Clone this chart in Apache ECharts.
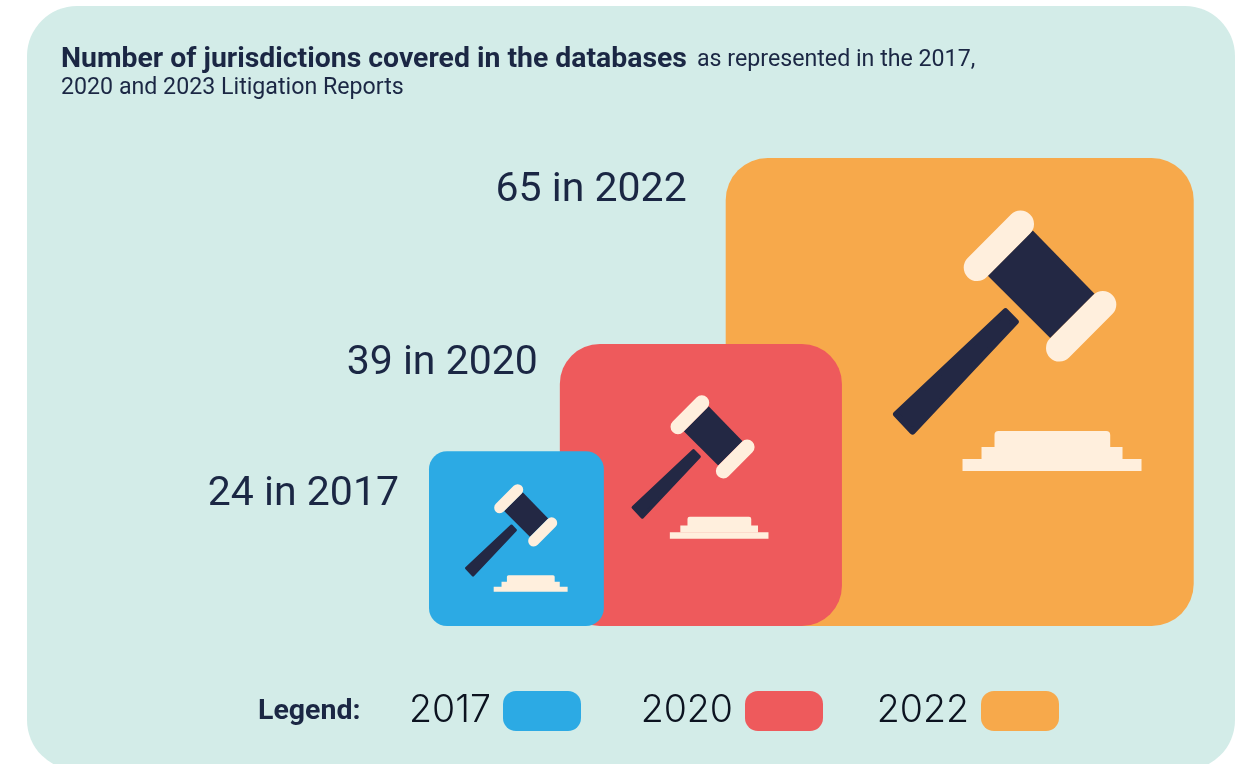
<!DOCTYPE html>
<html>
<head>
<meta charset="utf-8">
<title>Number of jurisdictions</title>
<script src="https://cdn.jsdelivr.net/npm/echarts@6/dist/echarts.min.js"></script>
<style>
  html, body { margin: 0; padding: 0; background: #fff; }
  #chart { width: 1250px; height: 764px; }
</style>
</head>
<body>
<div id="chart"></div>
<script>
  var years = ['2017', '2020', '2022'];
  var jurisdictions = [24, 39, 65];

  var colors = ['#2caae4', '#ee5a5c', '#f7a94b'];
  var navy = '#232844';
  var cream = '#ffefdd';
  var textColor = '#1b2744';

  // where each square starts on the hidden x axis (same units as the values)
  var squareStart = [0, 18.3, 41.5];
  var cornerRadius = [18, 40, 42];
  // label position against the square's top left corner
  var labelOffset = [[-30, 44], [-22, 20], [-39, 33]];
  // gavel: anchor as a fraction of the square side, and its scale
  var gavelAnchor = [[0.37, 0.804], [0.39, 0.691], [0.506, 0.669]];
  var gavelScale = [0.413, 0.551, 1];
  var legendRight = [669, 427, 191];

  var swatch = 'path://M13 0H65A13 13 0 0 1 78 13V27A13 13 0 0 1 65 40H13A13 13 0 0 1 0 27V13A13 13 0 0 1 13 0Z';
  var yMin = -0.45;

  // gavel drawn at full size, origin at the left bottom corner of its base
  function gavelShapes() {
    return [
      { type: 'polygon', shape: { points: [[43, -159.8], [53.3, -149.3], [-50, -39.5], [-66.5, -57]] },
        style: { fill: navy, stroke: navy, lineWidth: 6, lineJoin: 'round' } },
      { type: 'polygon', shape: { points: [[70.3, -240.6], [132, -177.3], [87.7, -133], [25.3, -195.3]] },
        style: { fill: navy } },
      { type: 'line', shape: { x1: 14.7, y1: -203.5, x2: 58, y2: -247 },
        style: { stroke: cream, lineWidth: 27, lineCap: 'round' } },
      { type: 'line', shape: { x1: 97, y1: -123, x2: 140.3, y2: -166.6 },
        style: { stroke: cream, lineWidth: 27, lineCap: 'round' } },
      { type: 'rect', shape: { x: 32, y: -40, width: 115.7, height: 17, r: [4, 4, 0, 0] }, style: { fill: cream } },
      { type: 'rect', shape: { x: 19, y: -24, width: 141, height: 12.5 }, style: { fill: cream } },
      { type: 'rect', shape: { x: 0, y: -12, width: 179, height: 12 }, style: { fill: cream } }
    ];
  }

  function makeRender(i) {
    return function (params, api) {
      var topLeft = api.coord([api.value(0), api.value(1)]);
      var bottom = api.coord([0, yMin])[1];
      var side = bottom - topLeft[1];
      return {
        type: 'group',
        children: [
          {
            type: 'rect',
            shape: { x: topLeft[0], y: topLeft[1], width: side, height: side, r: cornerRadius[i] },
            style: { fill: colors[i] }
          },
          {
            type: 'group',
            x: topLeft[0] + gavelAnchor[i][0] * side,
            y: topLeft[1] + gavelAnchor[i][1] * side,
            scaleX: gavelScale[i],
            scaleY: gavelScale[i],
            children: gavelShapes()
          },
          {
            type: 'text',
            style: {
              x: topLeft[0] + labelOffset[i][0],
              y: topLeft[1] + labelOffset[i][1],
              text: jurisdictions[i] + ' in ' + years[i],
              align: 'right',
              verticalAlign: 'middle',
              fill: textColor,
              font: '41px Roboto'
            }
          }
        ]
      };
    };
  }

  var chart = echarts.init(document.getElementById('chart'));
  chart.setOption({
    animation: false,
    backgroundColor: '#fff',
    graphic: [{
      type: 'rect',
      z: -10,
      shape: { x: 27, y: 6, width: 1208, height: 764, r: 50 },
      style: { fill: '#d3ece8' }
    }, {
      type: 'text',
      left: 258,
      top: 697,
      style: { text: 'Legend:', fill: textColor, font: 'bold 28.5px Roboto' }
    }],
    title: {
      left: 61,
      top: 45,
      padding: 0,
      text: '{b|Number of jurisdictions covered in the databases}  {n|as represented in the 2017,}\n{n|2020 and 2023 Litigation Reports}',
      textStyle: {
        rich: {
          b: { fontFamily: 'Roboto', fontWeight: 'bold', fontSize: 28.4, color: textColor, lineHeight: 30 },
          n: { fontFamily: 'Roboto', fontWeight: 'normal', fontSize: 23.2, color: textColor, lineHeight: 27 }
        }
      }
    },
    legend: years.map(function (y, i) {
      return {
        data: [{ name: y, icon: swatch }],
        right: legendRight[i],
        top: 691,
        padding: 0,
        align: 'right',
        itemWidth: 78,
        itemHeight: 40,
        selectedMode: false,
        textStyle: { fontFamily: 'Inter', fontWeight: 350, fontSize: 37.5, color: '#0c1320', padding: [4, 7, 0, 0] }
      };
    }),
    grid: { left: 429, top: 158, width: 765, height: 468 },
    xAxis: { type: 'value', min: 0, max: 107, show: false },
    yAxis: { type: 'value', min: yMin, max: 65, show: false },
    // biggest first so the smaller squares sit on top
    series: [2, 1, 0].map(function (i) {
      return {
        name: years[i],
        type: 'custom',
        renderItem: makeRender(i),
        itemStyle: { color: colors[i] },
        data: [[squareStart[i], jurisdictions[i]]],
        silent: true
      };
    })
  });
</script>
</body>
</html>
